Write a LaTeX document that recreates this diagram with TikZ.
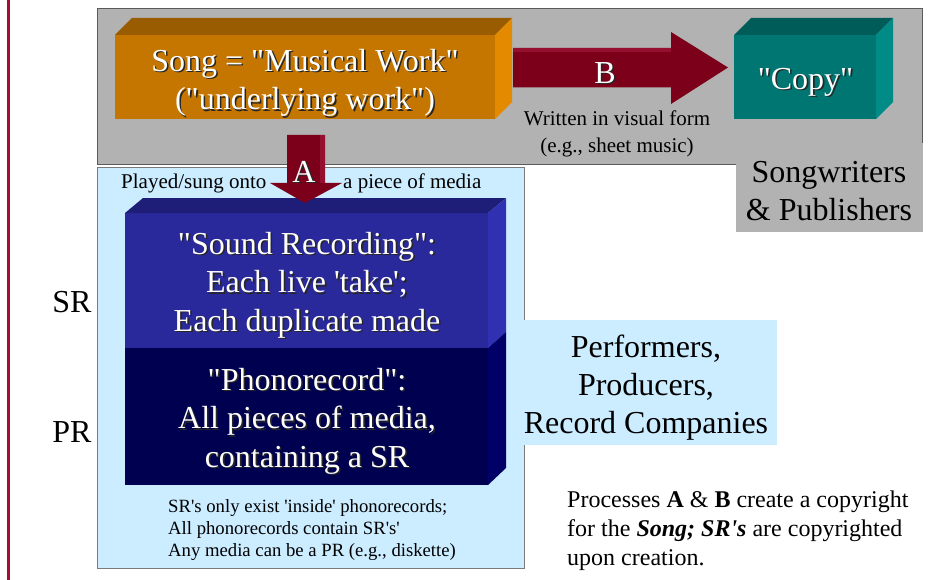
\documentclass[tikz,border=0pt]{standalone}
\usepackage{fontspec}
\setmainfont{Liberation Serif}[Ligatures=TeXOff]
\definecolor{redline}{HTML}{A50F2D}
\definecolor{paneg}{HTML}{B2B2B2}
\definecolor{paneedge}{HTML}{5A5A5A}
\definecolor{ltblue}{HTML}{CCECFF}
\definecolor{ltedge}{HTML}{7A7A7A}
\definecolor{orfront}{HTML}{C47600}
\definecolor{ortop}{HTML}{995C00}
\definecolor{orside}{HTML}{E38A00}
\definecolor{tlfront}{HTML}{007672}
\definecolor{tltop}{HTML}{005C59}
\definecolor{tlside}{HTML}{008B86}
\definecolor{arrowred}{HTML}{7C0019}
\definecolor{arrowlite}{HTML}{94102E}
\definecolor{srfront}{HTML}{29299B}
\definecolor{srtop}{HTML}{1E1E78}
\definecolor{srside}{HTML}{3030B2}
\definecolor{prfront}{HTML}{000050}
\definecolor{prside}{HTML}{000066}
\newcommand\stx[1]{\makebox[0pt][l]{\hspace{1.6pt}\raisebox{-1.6pt}{\color{black!85}#1}}#1}
\tikzset{
  facebox/.style={inner sep=0, outer sep=0, anchor=north west},
  bigw/.style={text=white, font=\fontsize{32}{38.5}\selectfont, align=center, inner sep=0},
  bigk/.style={text=black, font=\fontsize{32}{38}\selectfont, align=center, inner sep=0},
  midk/.style={text=black, font=\fontsize{21}{27}\selectfont, align=center, inner sep=0},
  smallk/.style={text=black, font=\fontsize{18.7}{22}\selectfont, align=left, inner sep=0},
  notek/.style={text=black, font=\fontsize{24}{29}\selectfont, align=left, inner sep=0},
}
\begin{document}
\begin{tikzpicture}[x=1pt,y=-1pt]
\useasboundingbox (0,0) rectangle (952,580);
\fill[white] (0,0) rectangle (952,580);
% left rule
\fill[redline] (6.8,0) rectangle (9.8,580);
% grey pane
\node[facebox, draw=paneedge, line width=0.9pt, fill=paneg, minimum width=825, minimum height=156] (pane) at (97.5,8) {};
\node[facebox, fill=paneg, minimum width=186.5, minimum height=89] (songw) at (736,143) {};
\node[bigk] (songwtxt) at (829,191) {Songwriters\\\& Publishers};
% light blue pane
\node[facebox, draw=ltedge, line width=0.9pt, fill=ltblue, minimum width=426.5, minimum height=401] (media) at (97.5,167) {};
\node[facebox, fill=ltblue, minimum width=254, minimum height=125] (perf) at (523,320) {};
\node[bigk] (perftxt) at (646,388) {Performers,\\Producers,\\Record Companies};
% orange song box
\node[facebox, fill=orfront, minimum width=380, minimum height=84] (song) at (115,35) {};
\fill[ortop] (song.north west) -- ++(17,-17) -- ++(380,0) -- (song.north east) -- cycle;
\fill[orside] (song.north east) -- ++(17,-17) -- ++(0,84) -- (song.south east) -- cycle;
\node[bigw] (songtxt) at (305,83.5) {\stx{Song = "Musical Work"}\\\stx{("underlying work")}};
% teal copy box
\node[facebox, fill=tlfront, minimum width=142, minimum height=84] (copy) at (734,35) {};
\fill[tltop] (copy.north west) -- ++(17,-17) -- ++(142,0) -- (copy.north east) -- cycle;
\fill[tlside] (copy.north east) -- ++(17,-17) -- ++(0,84) -- (copy.south east) -- cycle;
\node[bigw] (copytxt) at (805.5,83) {\stx{"Copy"}};
% arrow B
\coordinate (bstart) at (513,67.5);
\coordinate (btip) at (728,67.5);
\fill[arrowred] (bstart) ++(0,-19.5) -- ++(158,0) -- ++(0,-16) -- (btip) -- ++(-57,36.5) -- ++(0,-16.5) -- ++(-158,0) -- cycle;
\fill[arrowlite] (bstart) ++(0,-19.5) -- ++(158,0) -- ++(0,4) -- ++(-158,0) -- cycle;
\node[bigw] (btxt) at (605,73.5) {\stx{B}};
\node[midk] (btxt2) at (617,134) {Written in visual form\\(e.g., sheet music)};
% SR / PR block
\node[facebox, fill=srfront, minimum width=363, minimum height=135] (sr) at (125,213) {};
\node[facebox, fill=prfront, minimum width=363, minimum height=137] (pr) at (125,348) {};
\fill[srtop] (sr.north west) -- ++(18,-15) -- ++(363,0) -- (sr.north east) -- cycle;
\fill[srside] (sr.north east) -- ++(18,-15) -- ++(0,134) -- (sr.south east) -- cycle;
\fill[prside] (pr.north east) -- ++(18,-16) -- ++(0,136) -- (pr.south east) -- cycle;
\node[bigw] (srtxt) at (307,286) {\stx{"Sound Recording":}\\\stx{Each live 'take';}\\\stx{Each duplicate made}};
\node[bigw] (prtxt) at (307,422) {\stx{"Phonorecord":}\\\stx{All pieces of media,}\\\stx{containing a SR}};
% arrow A
\coordinate (astart) at (306,135);
\coordinate (atip) at (305,203);
\fill[arrowred] (astart) ++(-19,0) -- ++(38,0) -- ++(0,48) -- ++(17,0) -- (atip) -- ++(-35,-20) -- ++(17,0) -- cycle;
\fill[arrowlite] (astart) ++(14,0) -- ++(5,0) -- ++(0,48) -- ++(-5,0) -- cycle;
\node[bigw] (atxt) at (304,172.5) {\stx{A}};
\node[midk, anchor=west] (played) at (121,183) {Played/sung onto};
\node[midk, anchor=west] (piece) at (343,183) {a piece of media};
% side labels
\node[bigk] (srlab) at (72,302) {SR};
\node[bigk] (prlab) at (72,432) {PR};
% notes
\node[smallk, anchor=west] (foot) at (168,530) {SR's only exist 'inside' phonorecords;\\All phonorecords contain SR's'\\Any media can be a PR (e.g., diskette)};
\node[notek, anchor=west] (note) at (567,531) {Processes \textbf{A} \& \textbf{B} create a copyright\\for the \textbf{\textit{Song; SR's}} are copyrighted\\upon creation.};
\end{tikzpicture}
\end{document}
